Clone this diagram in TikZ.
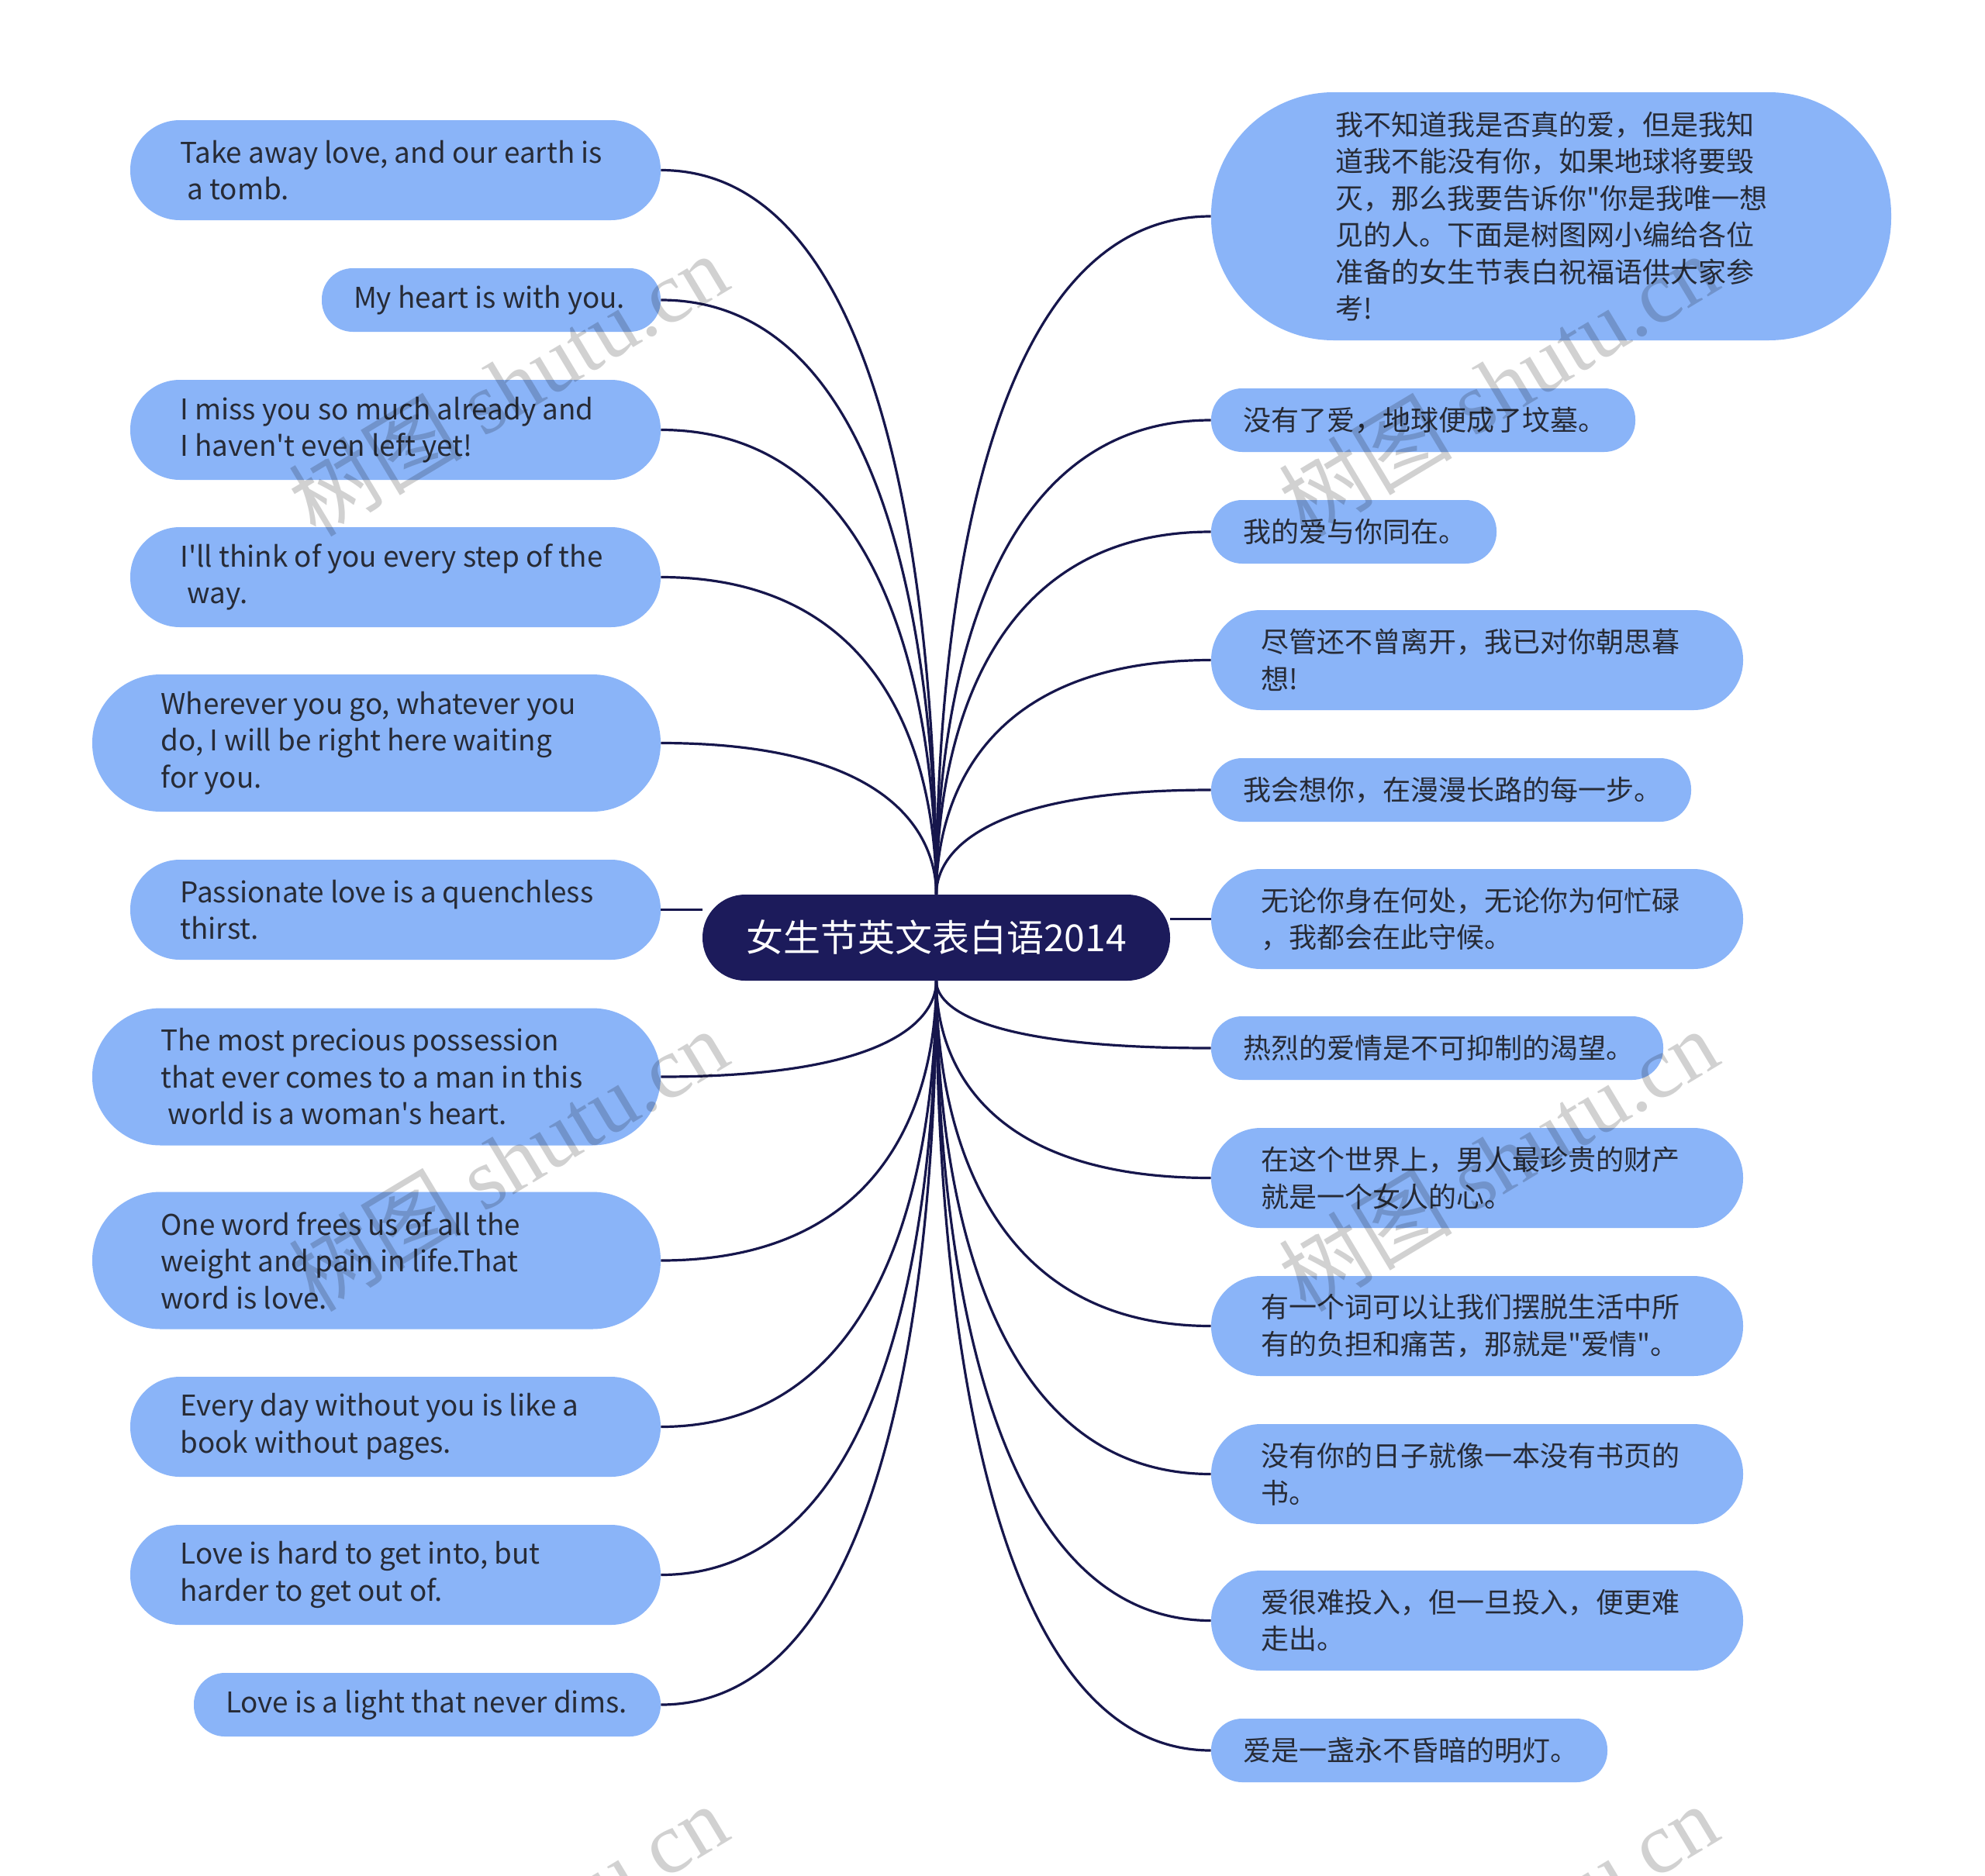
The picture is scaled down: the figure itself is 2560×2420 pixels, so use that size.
\documentclass[tikz,border=0pt]{standalone}
\usepackage{fontspec}
\newfontfamily\mainf{Noto Sans CJK SC}
\newfontfamily\wmlat{Liberation Serif}
\usetikzlibrary{calc}
\definecolor{leafblue}{HTML}{8AB4F8}
\definecolor{rootnavy}{HTML}{1C1B5B}
\definecolor{linenavy}{HTML}{16164C}
\definecolor{txtcol}{HTML}{272B36}
\tikzset{
  leafbase/.style={fill=leafblue, draw=none, align=left, text=txtcol, inner ysep=0pt,
    font=\mainf\fontsize{18.4pt}{23.75pt}\selectfont},
  cjk/.style={font=\mainf\fontsize{18pt}{23.75pt}\selectfont},
  leafS/.style={leafbase, minimum height=41pt, rounded corners=20pt, inner xsep=20.5pt},
  leafM/.style={leafbase, minimum height=64.5pt, rounded corners=32pt, inner xsep=32.25pt},
  leafL/.style={leafbase, minimum height=88.5pt, rounded corners=44pt, inner xsep=44.25pt},
  leafXL/.style={leafbase, minimum height=160pt, rounded corners=79pt, inner xsep=80pt},
  root/.style={fill=rootnavy, draw=none, text=white, inner sep=0pt,
    minimum width=301.5pt, minimum height=55.5pt, rounded corners=27.5pt,
    font=\mainf\fontsize{24pt}{28pt}\selectfont},
  conn/.style={draw=linenavy, line width=1.6pt},
  wm/.style={font=\wmlat\fontsize{56pt}{56pt}\selectfont, text=black, opacity=0.18, inner sep=0pt}
}
\newcommand\tline[1]{\mbox{\spaceskip=0pt\xspaceskip=0pt #1}}
\newcommand\upconn[1]{\draw[conn] (c.north) .. controls ($(c.north)!0.3!(c.north|-#1)$) and ($(#1)!0.9!(#1-|c.north)$) .. (#1);}
\newcommand\downconn[1]{\draw[conn] (c.south) .. controls ($(c.south)!0.3!(c.south|-#1)$) and ($(#1)!0.9!(#1-|c.south)$) .. (#1);}
\begin{document}
\begin{tikzpicture}[x=0.5pt,y=-0.5pt]
\useasboundingbox (0,0) rectangle (2560,2420);
\fill[white] (0,0) rectangle (2560,2420);
\clip (0,0) rectangle (2560,2420);

% root
\node[root] (c) at (1207.5,1209.5) {女生节英文表白语2014};

% left leaves
\node[leafM, text width=277.5pt] (l1) at (510,219.5) {\tline{Take away love, and our earth is}\\\tline{\hspace*{0.25em}a tomb.}};
\node[leafS, text width=177.5pt] (l2) at (633.5,387) {\tline{My heart is with you.}};
\node[leafM, text width=277.5pt] (l3) at (510,554.5) {\tline{I miss you so much already and}\\\tline{I haven't even left yet!}};
\node[leafM, text width=277.5pt] (l4) at (510,744.5) {\tline{I'll think of you every step of the}\\\tline{\hspace*{0.25em}way.}};
\node[leafL, text width=278pt] (l5) at (485.5,958.5) {\tline{Wherever you go, whatever you}\\\tline{do, I will be right here waiting}\\\tline{for you.}};
\node[leafM, text width=277.5pt] (l6) at (510,1173.5) {\tline{Passionate love is a quenchless}\\\tline{thirst.}};
\node[leafL, text width=278pt] (l7) at (485.5,1389) {\tline{The most precious possession}\\\tline{that ever comes to a man in this}\\\tline{\hspace*{0.25em}world is a woman's heart.}};
\node[leafL, text width=278pt] (l8) at (485.5,1626) {\tline{One word frees us of all the}\\\tline{weight and pain in life.That}\\\tline{word is love.}};
\node[leafM, text width=277.5pt] (l9) at (510,1840.5) {\tline{Every day without you is like a}\\\tline{book without pages.}};
\node[leafM, text width=277.5pt] (l10) at (510,2031.5) {\tline{Love is hard to get into, but}\\\tline{harder to get out of.}};
\node[leafS, text width=260pt] (l11) at (551,2199) {\tline{Love is a light that never dims.}};

% right leaves
\node[leafXL, cjk, text width=278.5pt] (r1) at (2000.5,279) {我不知道我是否真的爱，但是我知\\道我不能没有你，如果地球将要毁\\\tline{灭，那么我要告诉你"你是我唯一想}\\见的人。下面是树图网小编给各位\\准备的女生节表白祝福语供大家参\\考!};
\node[leafS, cjk, text width=232.5pt] (r2) at (1835.5,542) {没有了爱，地球便成了坟墓。};
\node[leafS, cjk, text width=143pt] (r3) at (1746,686) {我的爱与你同在。};
\node[leafM, cjk, text width=278.5pt] (r4) at (1905,851.5) {尽管还不曾离开，我已对你朝思暮\\想!};
\node[leafS, cjk, text width=268.5pt] (r5) at (1871.5,1019) {我会想你，在漫漫长路的每一步。};
\node[leafM, cjk, text width=278.5pt] (r6) at (1905,1185.5) {无论你身在何处，无论你为何忙碌\\，我都会在此守候。};
\node[leafS, cjk, text width=250.5pt] (r7) at (1853.5,1352) {热烈的爱情是不可抑制的渴望。};
\node[leafM, cjk, text width=278.5pt] (r8) at (1905,1519.5) {在这个世界上，男人最珍贵的财产\\就是一个女人的心。};
\node[leafM, cjk, text width=278.5pt] (r9) at (1905,1710.5) {有一个词可以让我们摆脱生活中所\\有的负担和痛苦，那就是"爱情"。};
\node[leafM, cjk, text width=278.5pt] (r10) at (1905,1901.5) {没有你的日子就像一本没有书页的\\书。};
\node[leafM, cjk, text width=278.5pt] (r11) at (1905,2090.5) {爱很难投入，但一旦投入，便更难\\走出。};
\node[leafS, cjk, text width=214.5pt] (r12) at (1817.5,2258) {爱是一盏永不昏暗的明灯。};

% connectors
\upconn{l1.east}
\upconn{l2.east}
\upconn{l3.east}
\upconn{l4.east}
\upconn{l5.east}
\draw[conn] (l6.east) -- (l6.east -| c.west);
\downconn{l7.east}
\downconn{l8.east}
\downconn{l9.east}
\downconn{l10.east}
\downconn{l11.east}

\upconn{r1.west}
\upconn{r2.west}
\upconn{r3.west}
\upconn{r4.west}
\upconn{r5.west}
\draw[conn] (r6.west) -- (r6.west -| c.east);
\downconn{r7.west}
\downconn{r8.west}
\downconn{r9.west}
\downconn{r10.west}
\downconn{r11.west}
\downconn{r12.west}

% watermarks
\foreach \wx/\wy [count=\i] in {655/496, 655/1496, 655/2496, 1932/496, 1932/1496, 1932/2496}{
  \node[wm, rotate=31] (wm\i) at (\wx,\wy) {{\mainf 树图} shutu.cn};
}
\end{tikzpicture}
\end{document}
